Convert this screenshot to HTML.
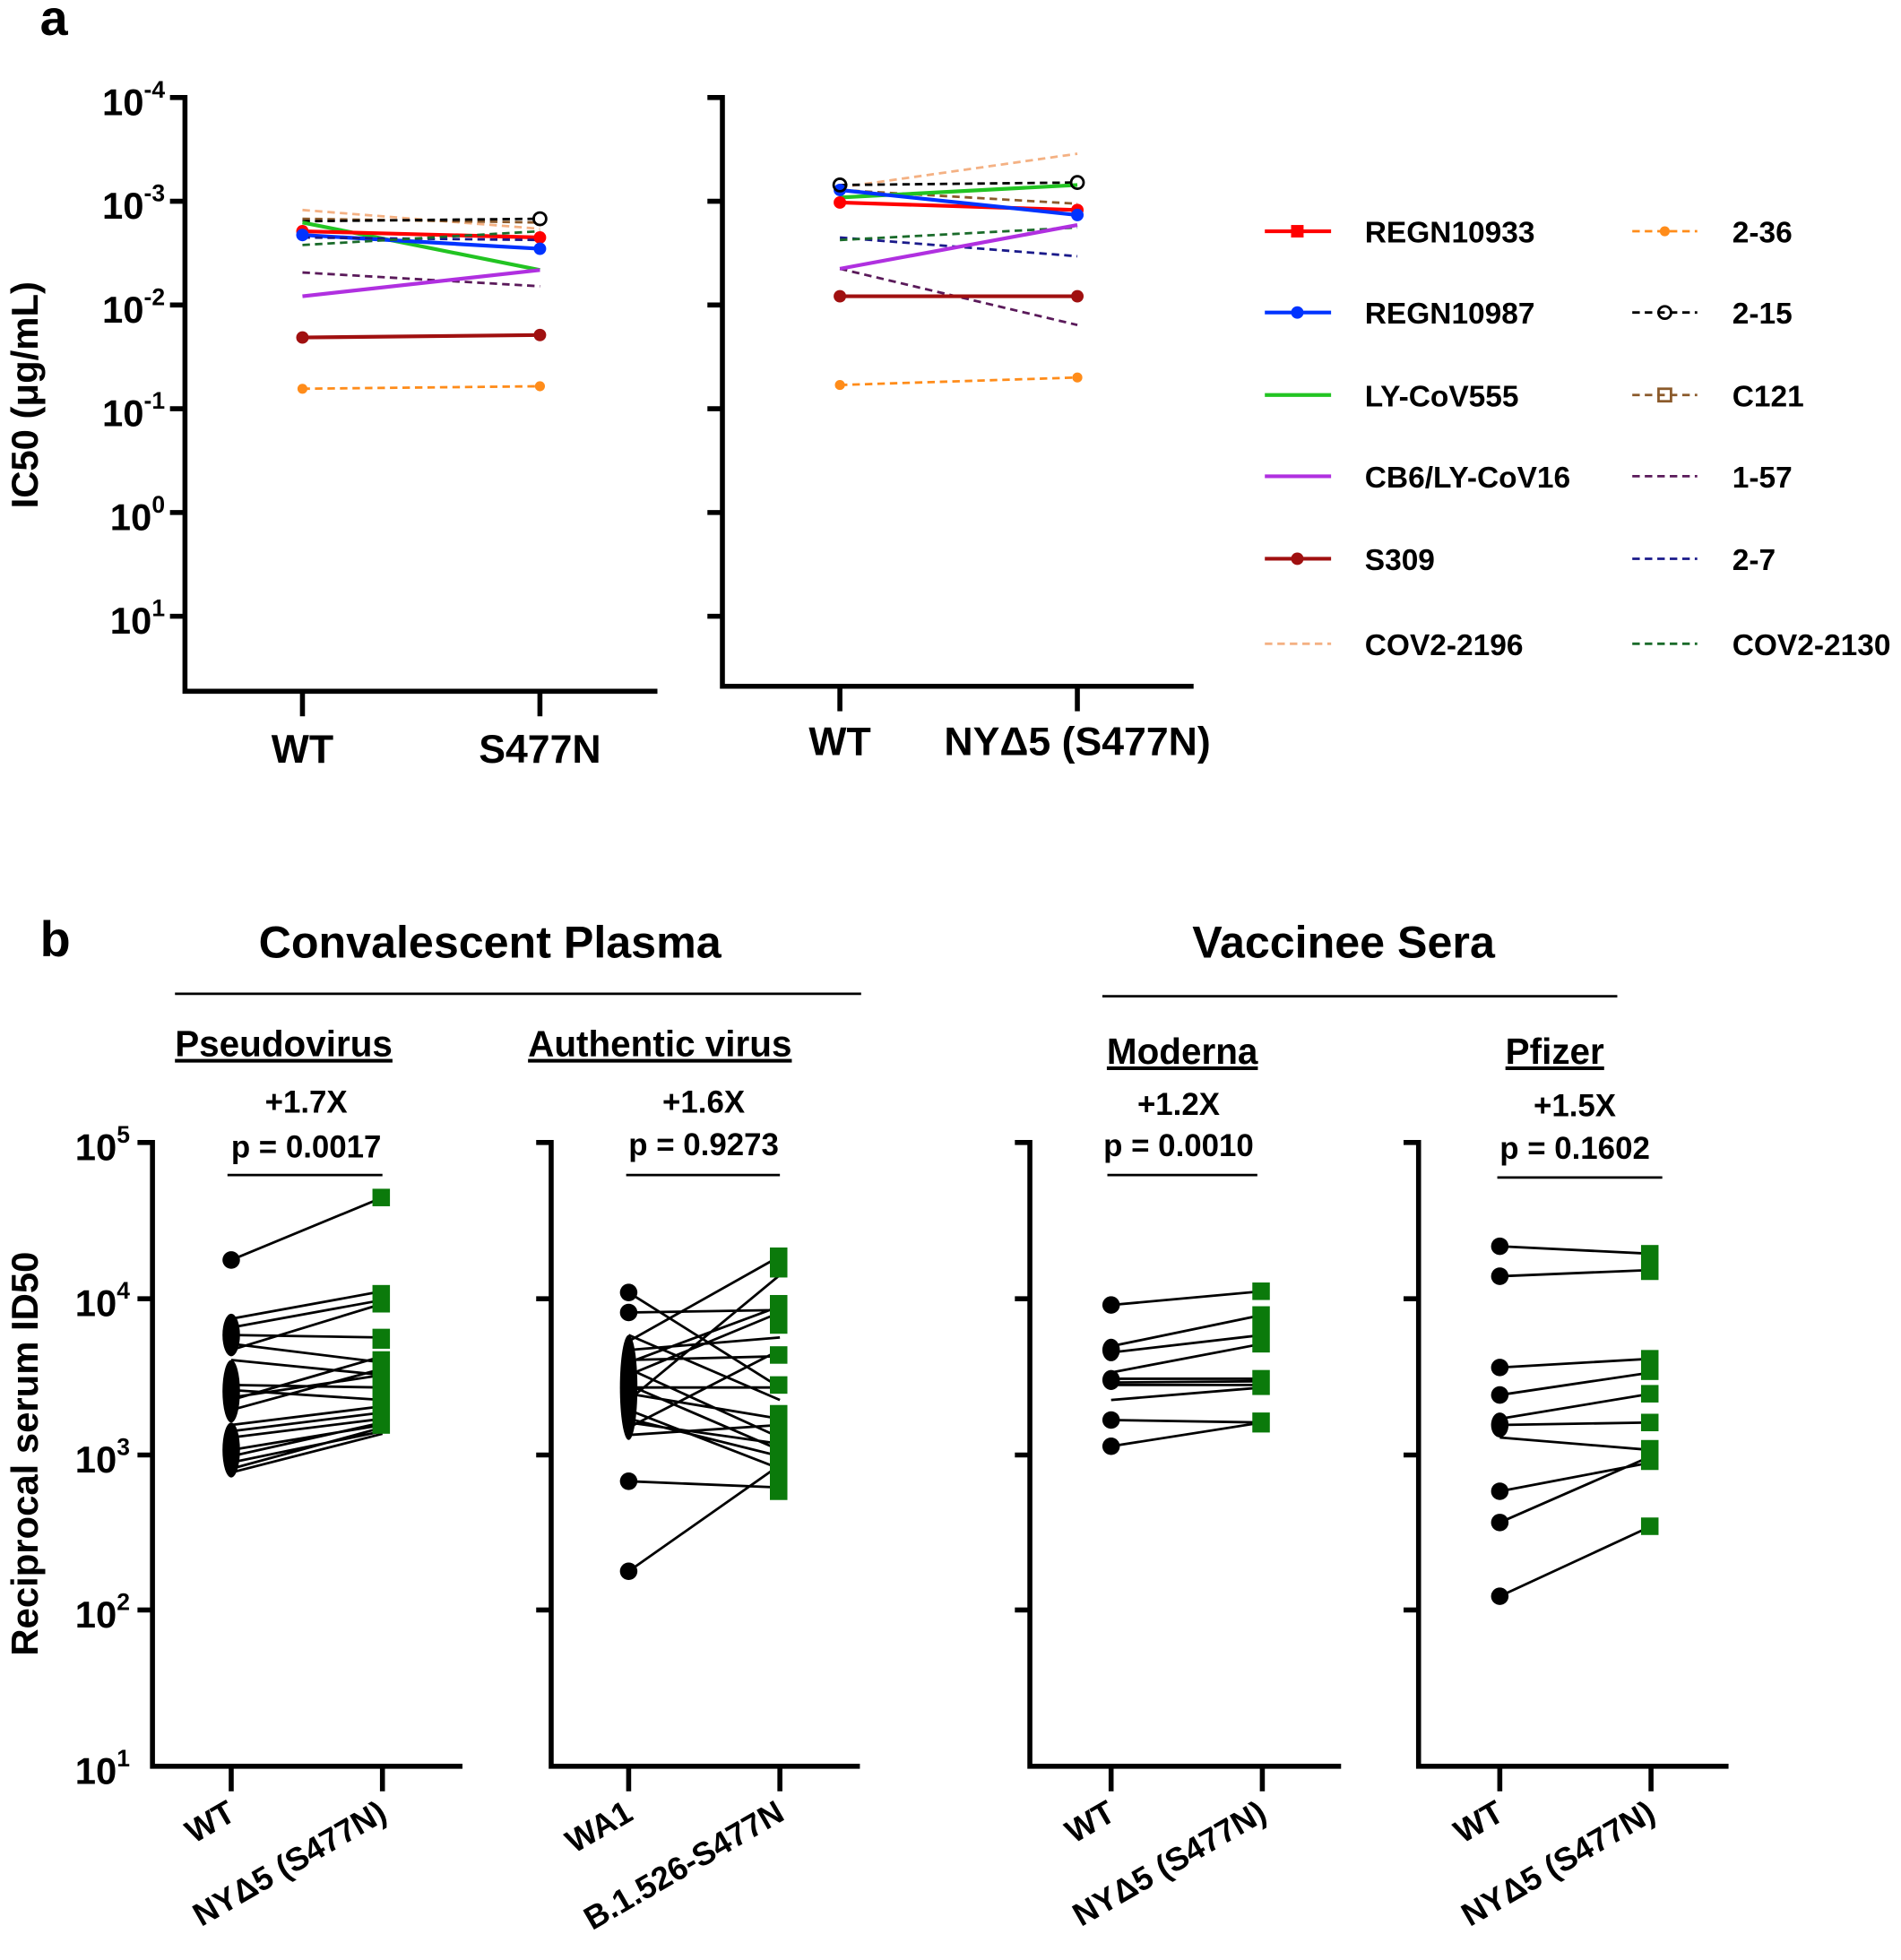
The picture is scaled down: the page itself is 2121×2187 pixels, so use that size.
<!DOCTYPE html>
<html><head><meta charset="utf-8"><style>
html,body{margin:0;padding:0;background:#fff}
svg{display:block}
text{font-family:"Liberation Sans",Arial,sans-serif;font-weight:bold;fill:#000}
</style></head><body>
<svg width="2121" height="2187" viewBox="0 0 1521 1568" preserveAspectRatio="none" xmlns="http://www.w3.org/2000/svg">
<text x="32" y="28" font-size="40">a</text>
<text x="32" y="765" font-size="40">b</text>

<!-- Panel a left -->
<g stroke="#000" stroke-width="4" fill="none">
<path d="M148 76 V553 H526"/>
<path d="M136 78H148M136 161H148M136 244H148M136 327H148M136 410H148M136 493H148"/>
<path d="M242 553V573M432 553V573"/>
<path d="M578 76 V549 H955"/>
<path d="M566 78H578M566 161H578M566 244H578M566 327H578M566 410H578M566 493H578"/>
<path d="M672 549V569M862 549V569"/>
</g>
<g font-size="30" text-anchor="end">
<text x="132" y="92">10<tspan dy="-14" font-size="19">-4</tspan></text>
<text x="132" y="175">10<tspan dy="-14" font-size="19">-3</tspan></text>
<text x="132" y="258">10<tspan dy="-14" font-size="19">-2</tspan></text>
<text x="132" y="341">10<tspan dy="-14" font-size="19">-1</tspan></text>
<text x="132" y="424">10<tspan dy="-14" font-size="19">0</tspan></text>
<text x="132" y="507">10<tspan dy="-14" font-size="19">1</tspan></text>
</g>
<text transform="translate(30 316) rotate(-90)" font-size="30" text-anchor="middle">IC50 (μg/mL)</text>
<g font-size="32" text-anchor="middle">
<text x="242" y="610">WT</text><text x="432" y="610">S477N</text>
<text x="672" y="604">WT</text><text x="862" y="604">NYΔ5 (S477N)</text>
</g>

<!-- series a -->
<g stroke-width="3" fill="none">
<!-- left -->
<path d="M242 168L432 183" stroke="#f4b183" stroke-dasharray="6 4" stroke-width="2"/>
<path d="M242 175L432 178" stroke="#8b5a2b" stroke-dasharray="6 4" stroke-width="2"/>
<path d="M242 177L432 175" stroke="#000" stroke-dasharray="6 4" stroke-width="2"/>
<path d="M242 178L432 216" stroke="#22c422"/>
<path d="M242 185L432 190" stroke="#ff0000"/>
<path d="M242 188L432 199" stroke="#0033ff"/>
<path d="M242 190L432 192" stroke="#1a1a8a" stroke-dasharray="6 4" stroke-width="2"/>
<path d="M242 196L432 185" stroke="#1a6b2a" stroke-dasharray="6 4" stroke-width="2"/>
<path d="M242 218L432 229" stroke="#5a1a5a" stroke-dasharray="6 4" stroke-width="2"/>
<path d="M242 237L432 216" stroke="#b030e0"/>
<path d="M242 270L432 268" stroke="#a01010"/>
<path d="M242 311L432 309" stroke="#ff8c1a" stroke-dasharray="6 4" stroke-width="2"/>
<!-- right -->
<path d="M672 150L862 123" stroke="#f4b183" stroke-dasharray="6 4" stroke-width="2"/>
<path d="M672 152L862 163" stroke="#8b5a2b" stroke-dasharray="6 4" stroke-width="2"/>
<path d="M672 148L862 146" stroke="#000" stroke-dasharray="6 4" stroke-width="2"/>
<path d="M672 158L862 148" stroke="#22c422"/>
<path d="M672 162L862 168" stroke="#ff0000"/>
<path d="M672 152L862 172" stroke="#0033ff"/>
<path d="M672 190L862 205" stroke="#1a1a8a" stroke-dasharray="6 4" stroke-width="2"/>
<path d="M672 192L862 182" stroke="#1a6b2a" stroke-dasharray="6 4" stroke-width="2"/>
<path d="M672 215L862 260" stroke="#5a1a5a" stroke-dasharray="6 4" stroke-width="2"/>
<path d="M672 215L862 180" stroke="#b030e0"/>
<path d="M672 237L862 237" stroke="#a01010"/>
<path d="M672 308L862 302" stroke="#ff8c1a" stroke-dasharray="6 4" stroke-width="2"/>
</g>
<g>
<circle cx="242" cy="185" r="5" fill="#ff0000"/><circle cx="432" cy="190" r="5" fill="#ff0000"/>
<circle cx="242" cy="188" r="5" fill="#0033ff"/><circle cx="432" cy="199" r="5" fill="#0033ff"/>
<circle cx="242" cy="270" r="5" fill="#a01010"/><circle cx="432" cy="268" r="5" fill="#a01010"/>
<circle cx="242" cy="311" r="4" fill="#ff8c1a"/><circle cx="432" cy="309" r="4" fill="#ff8c1a"/>
<circle cx="672" cy="162" r="5" fill="#ff0000"/><circle cx="862" cy="168" r="5" fill="#ff0000"/>
<circle cx="672" cy="152" r="5" fill="#0033ff"/><circle cx="862" cy="172" r="5" fill="#0033ff"/>
<circle cx="672" cy="237" r="5" fill="#a01010"/><circle cx="862" cy="237" r="5" fill="#a01010"/>
<circle cx="672" cy="308" r="4" fill="#ff8c1a"/><circle cx="862" cy="302" r="4" fill="#ff8c1a"/>
<circle cx="432" cy="175" r="5" fill="none" stroke="#000" stroke-width="2"/>
<circle cx="862" cy="146" r="5" fill="none" stroke="#000" stroke-width="2"/>
<circle cx="672" cy="148" r="5" fill="none" stroke="#000" stroke-width="2"/>
</g>

<!-- legend -->
<g stroke-width="3" fill="none">
<path d="M1012 185H1065" stroke="#ff0000"/><path d="M1012 250H1065" stroke="#0033ff"/>
<path d="M1012 316H1065" stroke="#22c422"/><path d="M1012 381H1065" stroke="#b030e0"/>
<path d="M1012 447H1065" stroke="#a01010"/><path d="M1012 515H1065" stroke="#f4b183" stroke-dasharray="6 4" stroke-width="2"/>
<path d="M1306 185H1358" stroke="#ff8c1a" stroke-dasharray="6 4" stroke-width="2"/>
<path d="M1306 250H1358" stroke="#000" stroke-dasharray="6 4" stroke-width="2"/>
<path d="M1306 316H1358" stroke="#8b5a2b" stroke-dasharray="6 4" stroke-width="2"/>
<path d="M1306 381H1358" stroke="#5a1a5a" stroke-dasharray="6 4" stroke-width="2"/>
<path d="M1306 447H1358" stroke="#1a1a8a" stroke-dasharray="6 4" stroke-width="2"/>
<path d="M1306 515H1358" stroke="#1a6b2a" stroke-dasharray="6 4" stroke-width="2"/>
</g>
<rect x="1033" y="180" width="10" height="10" fill="#ff0000"/>
<circle cx="1038" cy="250" r="5" fill="#0033ff"/>
<circle cx="1038" cy="447" r="5" fill="#a01010"/>
<circle cx="1332" cy="185" r="4" fill="#ff8c1a"/>
<circle cx="1332" cy="250" r="5" fill="none" stroke="#000" stroke-width="2"/>
<rect x="1327" y="311" width="10" height="10" fill="none" stroke="#8b5a2b" stroke-width="2"/>
<g font-size="24">
<text x="1092" y="194">REGN10933</text><text x="1092" y="259">REGN10987</text>
<text x="1092" y="325">LY-CoV555</text><text x="1092" y="390">CB6/LY-CoV16</text>
<text x="1092" y="456">S309</text><text x="1092" y="524">COV2-2196</text>
<text x="1386" y="194">2-36</text><text x="1386" y="259">2-15</text>
<text x="1386" y="325">C121</text><text x="1386" y="390">1-57</text>
<text x="1386" y="456">2-7</text><text x="1386" y="524">COV2-2130</text>
</g>

<!-- Panel b headers -->
<g font-size="36" text-anchor="middle">
<text x="392" y="766">Convalescent Plasma</text>
<text x="1075" y="766">Vaccinee Sera</text>
</g>
<g stroke="#000" stroke-width="2"><path d="M140 795H689M882 797H1294"/></g>
<g font-size="29" text-anchor="middle" text-decoration="underline">
<text x="227" y="845">Pseudovirus</text>
<text x="528" y="845">Authentic virus</text>
<text x="946" y="851">Moderna</text>
<text x="1244" y="851">Pfizer</text>
</g>
<g font-size="25" text-anchor="middle">
<text x="245" y="890">+1.7X</text><text x="245" y="926">p = 0.0017</text>
<text x="563" y="890">+1.6X</text><text x="563" y="924">p = 0.9273</text>
<text x="943" y="892">+1.2X</text><text x="943" y="925">p = 0.0010</text>
<text x="1260" y="893">+1.5X</text><text x="1260" y="927">p = 0.1602</text>
</g>
<g stroke="#000" stroke-width="2"><path d="M182 940H306M501 940H624M886 940H1006M1198 942H1330"/></g>

<!-- b axes -->
<g stroke="#000" stroke-width="4" fill="none">
<path d="M122 912V1413H370M110 914H122M110 1039H122M110 1164H122M110 1288H122M185 1413V1433M306 1413V1433"/>
<path d="M441 912V1413H688M429 914H441M429 1039H441M429 1164H441M429 1288H441M503 1413V1433M624 1413V1433"/>
<path d="M824 912V1413H1073M812 914H824M812 1039H824M812 1164H824M812 1288H824M889 1413V1433M1010 1413V1433"/>
<path d="M1135 912V1413H1383M1123 914H1135M1123 1039H1135M1123 1164H1135M1123 1288H1135M1200 1413V1433M1321 1413V1433"/>
</g>
<g font-size="30" text-anchor="end">
<text x="104" y="928">10<tspan dy="-14" font-size="19">5</tspan></text>
<text x="104" y="1053">10<tspan dy="-14" font-size="19">4</tspan></text>
<text x="104" y="1178">10<tspan dy="-14" font-size="19">3</tspan></text>
<text x="104" y="1302">10<tspan dy="-14" font-size="19">2</tspan></text>
<text x="104" y="1427">10<tspan dy="-14" font-size="19">1</tspan></text>
</g>
<text transform="translate(30 1163) rotate(-90)" font-size="30" text-anchor="middle" font-weight="normal">Reciprocal serum ID50</text>
<g font-size="26" text-anchor="end">
<text transform="translate(190 1455) rotate(-30)">WT</text>
<text transform="translate(311 1455) rotate(-30)">NYΔ5 (S477N)</text>
<text transform="translate(508 1455) rotate(-30)">WA1</text>
<text transform="translate(629 1455) rotate(-30)">B.1.526-S477N</text>
<text transform="translate(894 1455) rotate(-30)">WT</text>
<text transform="translate(1015 1455) rotate(-30)">NYΔ5 (S477N)</text>
<text transform="translate(1205 1455) rotate(-30)">WT</text>
<text transform="translate(1326 1455) rotate(-30)">NYΔ5 (S477N)</text>
</g>

<!-- b data -->
<g stroke="#000" stroke-width="2">
<path d="M185 1008L306 958M185 1055L306 1033M185 1062L306 1040M185 1068L306 1070M185 1075L306 1090M185 1080L306 1043M185 1088L306 1100M185 1108L306 1110M185 1112L306 1120M185 1118L306 1100M185 1140L306 1125M185 1145L306 1130M185 1150L306 1135M185 1160L306 1140M185 1165L306 1138M185 1170L306 1145M185 1175L306 1142M185 1178L306 1147M185 1120L306 1085M185 1128L306 1095"/>
<path d="M503 1034L624 1110M503 1050L624 1048M503 1068L624 1120M503 1073L624 1005M503 1080L624 1070M503 1088L624 1085M503 1095L624 1150M503 1100L624 1050M503 1108L624 1160M503 1115L624 1135M503 1120L624 1020M503 1128L624 1175M503 1135L624 1165M503 1142L624 1080M503 1148L624 1140M503 1185L624 1190M503 1257L624 1172M503 1110L624 1110M503 1090L624 1045M503 1138L624 1155"/>
<path d="M889 1044L1010 1033M889 1077L1010 1052M889 1082L1010 1068M889 1098L1010 1075M889 1103L1010 1103M889 1106L1010 1105M889 1108L1010 1108M889 1120L1010 1110M889 1136L1010 1138M889 1157L1010 1138"/>
<path d="M1200 997L1321 1003M1200 1021L1321 1016M1200 1094L1321 1087M1200 1116L1321 1098M1200 1135L1321 1115M1200 1140L1321 1138M1200 1150L1321 1160M1200 1193L1321 1170M1200 1218L1321 1165M1200 1277L1321 1221"/>
</g>
<g fill="#000">
<circle cx="185" cy="1008" r="7"/><ellipse cx="185" cy="1068" rx="7" ry="17"/><ellipse cx="185" cy="1113" rx="7" ry="25"/><ellipse cx="185" cy="1160" rx="7" ry="22"/>
<circle cx="503" cy="1034" r="7"/><circle cx="503" cy="1050" r="7"/><ellipse cx="503" cy="1110" rx="7" ry="42"/><circle cx="503" cy="1185" r="7"/><circle cx="503" cy="1257" r="7"/>
<circle cx="889" cy="1044" r="7"/><ellipse cx="889" cy="1080" rx="7" ry="9"/><ellipse cx="889" cy="1104" rx="7" ry="8"/><circle cx="889" cy="1136" r="7"/><circle cx="889" cy="1157" r="7"/>
<circle cx="1200" cy="997" r="7"/><circle cx="1200" cy="1021" r="7"/><circle cx="1200" cy="1094" r="7"/><circle cx="1200" cy="1116" r="7"/><ellipse cx="1200" cy="1140" rx="7" ry="10"/><circle cx="1200" cy="1193" r="7"/><circle cx="1200" cy="1218" r="7"/><circle cx="1200" cy="1277" r="7"/>
</g>
<g fill="#0b7a0b">
<rect x="298" y="951" width="14" height="14"/><rect x="298" y="1028" width="14" height="22"/><rect x="298" y="1063" width="14" height="16"/><rect x="298" y="1081" width="14" height="66"/>
<rect x="616" y="998" width="14" height="24"/><rect x="616" y="1036" width="14" height="31"/><rect x="616" y="1077" width="14" height="14"/><rect x="616" y="1101" width="14" height="14"/><rect x="616" y="1124" width="14" height="76"/>
<rect x="1002" y="1026" width="14" height="14"/><rect x="1002" y="1045" width="14" height="37"/><rect x="1002" y="1096" width="14" height="20"/><rect x="1002" y="1130" width="14" height="16"/>
<rect x="1313" y="996" width="14" height="28"/><rect x="1313" y="1080" width="14" height="24"/><rect x="1313" y="1108" width="14" height="14"/><rect x="1313" y="1131" width="14" height="14"/><rect x="1313" y="1152" width="14" height="24"/><rect x="1313" y="1214" width="14" height="14"/>
</g>
</svg>
</body></html>
